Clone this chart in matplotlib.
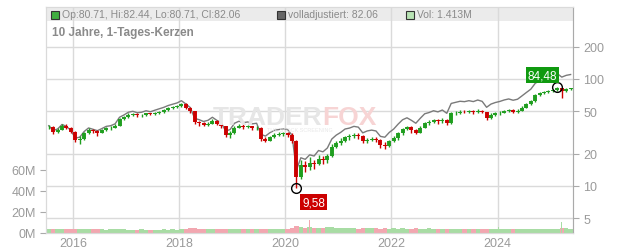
"""Chart: 10 Jahre, 1-Tages-Kerzen (monthly candles) with volume."""
import numpy as np
import matplotlib
matplotlib.use("Agg")
import matplotlib.pyplot as plt
from matplotlib.patches import Rectangle

# monthly candles, Jul 2015 .. May 2025
close = [
    35.5, 32, 33, 36.5, 35, 32,
    27, 27.5, 31, 33.5, 32.5, 31.5, 33, 34.5, 35, 36.5, 42, 44,
    46, 47, 45.5, 46, 47.5, 46.5, 48, 49.5, 51, 53, 54.5, 56,
    58, 54, 50, 39.5, 38.5, 37, 38, 40.5, 38, 36, 30, 31,
    35, 36.5, 35.5, 36, 34.5, 35, 27.5, 26.5, 28.5, 30, 30.5, 31,
    30, 26.5, 12, 15.5, 15, 16.5, 16, 18, 17.5, 19, 23, 25,
    26.5, 28.5, 29, 30, 29.5, 26, 27, 27.5, 27, 24, 23.5, 26,
    28, 31, 34, 35.5, 33.5, 31.5, 35, 38.5, 39.5, 41, 40, 41.5,
    38.5, 47.5, 48.5, 49.5, 49, 50, 49, 50.5, 49, 43, 46, 47.5,
    48.5, 50, 51, 49.5, 50.5, 54, 58, 62, 70, 74, 75, 76.5,
    78, 82, 77, 80, 82.06,
]
high = [
    37, 36, 34.5, 37.5, 37.5, 35.5,
    32.5, 29, 32, 34.5, 34, 33.5, 34, 35.5, 36, 37.5, 43.5, 45,
    47.5, 48.5, 48, 47, 48.5, 48.5, 49.5, 50.5, 52, 54.5, 56, 57.5,
    60, 59, 55, 50, 40.5, 39.5, 39.5, 42.5, 41.5, 38.5, 36.5, 32.5,
    36.5, 37.5, 37.5, 37, 36.5, 36, 35.5, 28.5, 29.5, 31.5, 32, 32,
    32, 31, 27, 17.5, 17, 18.5, 17.5, 19.5, 19, 20, 24.5, 26,
    28, 29.5, 30.5, 31, 31, 30, 28, 28.5, 28.5, 27.5, 25.5, 27,
    29, 32, 35, 36.5, 36, 34, 36, 39.5, 41, 42, 42, 43,
    42, 49, 50, 51, 51, 51.5, 51, 52, 51, 49.5, 47.5, 49,
    50, 51.5, 52.5, 52, 52, 55.5, 59.5, 63.5, 72, 76, 77.5, 78,
    80, 84.48, 83, 82, 82.5,
]
low = [
    34, 30.5, 31, 33, 34, 31.5,
    25.5, 24.5, 27, 30.5, 31, 29.5, 31, 32.5, 33.5, 34.5, 36, 41.5,
    43.5, 45, 44.5, 44, 45, 45.5, 46, 47, 48.5, 50.5, 52.5, 53.5,
    55, 52, 48.5, 38, 36.5, 36, 36, 37.5, 37, 35, 28.5, 28,
    30.5, 34.5, 34, 34.5, 33, 33.5, 26, 25.5, 26, 28, 29, 29.5,
    28.5, 25, 9.58, 11.5, 13.5, 14, 14.5, 15.5, 16, 16.5, 18.5, 22.5,
    24, 25.5, 27, 28, 27.5, 25, 25, 26, 25.5, 22.5, 22, 23,
    25.5, 27, 30, 33, 31, 30.5, 31, 34.5, 37, 38.5, 38, 39,
    37, 38, 46, 47, 47.5, 48, 47, 48, 47.5, 41.5, 42.5, 45,
    46, 47.5, 49, 48, 48.5, 50, 53, 57, 61, 69, 72.5, 73.5,
    75, 77, 67, 75.5, 78.5,
]
# "volladjustiert" line
adjusted = [
    36.5, 33, 34, 37.5, 36, 33,
    28, 28.5, 32.2, 34.8, 33.8, 32.8, 34.3, 36, 36.5, 38, 43.8, 46,
    48.8, 49.8, 48.3, 48.8, 50.4, 49.3, 51, 52.6, 54.2, 56.4, 58, 59.6,
    62.6, 58.3, 54, 42.7, 41.6, 40, 41, 43.8, 41, 39, 32.5, 33.6,
    38.5, 40.2, 39, 39.6, 38, 38.5, 30.3, 29.2, 31.4, 33, 33.6, 34.2,
    33.6, 29.8, 14, 18.3, 17.7, 19.5, 19, 21.4, 20.8, 22.6, 27.4, 29.8,
    31.6, 34, 34.7, 36, 35.4, 31.3, 32.6, 33.2, 32.6, 29, 28.5, 31.6,
    34, 37.8, 41.5, 43.3, 41, 38.5, 42.8, 47.2, 48.5, 50.4, 49.2, 51.2,
    47.7, 59, 60.4, 61.8, 61.3, 62.6, 61.4, 63.5, 61.7, 54.3, 58.2, 60.2,
    61.6, 63.6, 65, 63.2, 64.6, 69.4, 74.7, 80.2, 91, 96.5, 98.3, 100.6,
    103, 112, 104, 108, 110,
]
# volume in millions
volume = [
    3.8, 3.5, 4.0, 3.6, 3.4, 3.7,
    4.2, 4.0, 3.8, 3.6, 3.5, 3.7, 3.4, 3.3, 3.6, 3.5, 3.8, 3.4,
    3.2, 3.3, 3.1, 3.4, 3.2, 3.0, 3.3, 3.1, 3.4, 3.2, 3.5, 3.3,
    3.6, 4.0, 4.4, 4.8, 4.0, 3.8, 4.1, 3.7, 3.9, 4.2, 3.9, 4.0,
    3.8, 3.6, 3.9, 3.7, 4.0, 3.6, 3.8, 4.1, 3.7, 3.9, 3.6, 3.8,
    4.0, 4.8, 6.2, 5.6, 5.2, 5.5, 4.8, 4.6, 5.0, 5.3, 5.6, 4.9,
    5.0, 4.8, 4.6, 4.4, 4.2, 4.3, 4.5, 4.9, 4.6, 4.1, 4.4, 4.2,
    4.3, 4.1, 4.4, 4.0, 4.2, 4.5, 3.9, 4.1, 4.3, 4.0, 3.8, 4.0,
    3.9, 3.7, 4.2, 3.8, 3.6, 3.9, 3.5, 3.7, 3.6, 3.8, 3.5, 3.6,
    4.0, 3.7, 3.6, 3.9, 3.5, 3.7, 3.4, 3.6, 3.8, 3.5, 3.7, 3.9,
    4.2, 3.8, 4.4, 4.8, 4.0,
]
spike_dates = [2018.30, 2020.22, 2020.41, 2020.45, 2021.69, 2024.02, 2025.20]
spike_vols = [7, 9, 12, 12, 47, 6, 10]
spike_up = [False, True, False, False, False, True, True]

low_date, low_val = 2020.21, 9.58
high_date, high_val = 2025.125, 84.48

price_ticks = [5, 10, 20, 50, 100, 200]
vol_ticks = [0, 20, 40, 60]
year_ticks = [2016, 2018, 2020, 2022, 2024]

GREEN = "#1f9e1f"
RED = "#cc0000"
GRID = "#dadada"
TXT = "#9a9a9a"
TICKFONT = ["Liberation Sans Narrow", "Liberation Sans", "DejaVu Sans"]


def main():
    n = len(close)
    dates = 2015 + (6 + np.arange(n) + 0.5) / 12
    opens = [close[0]] + close[:-1]
    up = [c >= o for o, c in zip(opens, close)]

    fig = plt.figure(figsize=(6.32, 2.53), dpi=100)
    axv = fig.add_axes([46 / 632, 19 / 253, 527 / 632, 226 / 253])
    ax = axv.twinx()

    # header band behind everything
    axv.add_patch(Rectangle((0, 1 - 14 / 226), 1, 14 / 226, transform=axv.transAxes,
                            facecolor="#ebebeb", edgecolor="none", zorder=0))

    # volume
    vcol = ["#a8dca4" if u else "#f2a7b0" for u in up]
    axv.bar(dates, volume, width=1 / 12, color=vcol, linewidth=0, zorder=2)
    scol = ["#a8dca4" if u else "#f2a7b0" for u in spike_up]
    axv.bar(spike_dates, spike_vols, width=0.012, color=scol, linewidth=0, zorder=2)
    axv.set_ylim(0, 215)
    axv.set_yticks(vol_ticks)
    axv.set_yticklabels([f"{v}M" for v in vol_ticks])
    axv.set_xlim(2015.49, 2025.42)
    axv.set_xticks(year_ticks)
    axv.set_xticklabels([str(y) for y in year_ticks])
    axv.xaxis.grid(True, color=GRID, lw=1, zorder=1)
    axv.set_axisbelow(True)

    # price
    ax.set_yscale("log")
    ax.set_ylim(3.62, 471)
    ax.yaxis.grid(True, color=GRID, lw=1)
    ax.plot(dates, adjusted, color="#7a7a7a", lw=1.0, zorder=3)
    for d, o, c, h, lo, u in zip(dates, opens, close, high, low, up):
        col = GREEN if u else RED
        ax.vlines(d, lo, h, color=col, lw=1.0, zorder=4)
        ax.vlines(d, min(o, c), max(o, c), color=col, lw=2.8, zorder=4)
    ax.set_yticks(price_ticks)
    ax.set_yticklabels([str(p) for p in price_ticks])
    ax.minorticks_off()

    ax.plot([low_date], [low_val], "o", mfc="none", mec="black", ms=7, mew=1, zorder=6)
    ax.plot([high_date], [high_val], "o", mfc="none", mec="black", ms=7, mew=1, zorder=6)
    ax.annotate("9,58", (low_date, low_val), xytext=(4, -6), textcoords="offset points",
                ha="left", va="top", color="white", fontsize=8.5,
                bbox=dict(boxstyle="square,pad=0.15", fc=RED, ec="none"), zorder=7)
    ax.annotate("84,48", (high_date, high_val), xytext=(0, 4), textcoords="offset points",
                ha="right", va="bottom", color="white", fontsize=8.5,
                bbox=dict(boxstyle="square,pad=0.15", fc="#109a10", ec="none"), zorder=7)

    for a in (ax, axv):
        for s in a.spines.values():
            s.set_color(GRID)
        a.tick_params(colors="#aaaaaa", labelcolor=TXT, labelsize=9, length=4)
        for lab in a.get_xticklabels() + a.get_yticklabels():
            lab.set_family(TICKFONT)
    ax.spines["right"].set_color("#aaaaaa")
    axv.tick_params(axis="x", length=0, pad=3)

    # watermark
    fig.text(322 / 632, 1 - 118 / 253, "TRADER", ha="right", va="center", fontsize=19,
             fontweight="bold", color="#e6e6e6", zorder=1)
    fig.text(322 / 632, 1 - 118 / 253, "FOX", ha="left", va="center", fontsize=19,
             fontweight="bold", color="#f7d4d4", zorder=1)
    fig.text(300 / 632, 1 - 131 / 253, "THE STOCK SCREENING", ha="center", va="center",
             fontsize=4, color="#e8e8e8", zorder=1)

    # header legend
    fy = 1 - 15.5 / 253
    items = [(51, "#3fae3f", "Op:80.71, Hi:82.44, Lo:80.71, Cl:82.06"),
             (277, "#666666", "volladjustiert: 82.06"),
             (406, "#b8e3b4", "Vol: 1.413M")]
    for x0, col, label in items:
        fig.patches.append(Rectangle((x0 / 632, fy - 4 / 253), 8 / 632, 8 / 253,
                                     transform=fig.transFigure, fc=col, ec="#333333",
                                     lw=0.8, figure=fig))
        fig.text((x0 + 11) / 632, fy, label, ha="left", va="center", fontsize=7.5,
                 color="#8a8a8a")
    fig.text(52 / 632, 1 - 33 / 253, "10 Jahre, 1-Tages-Kerzen", ha="left", va="center",
             fontsize=8.5, fontweight="bold", color="#8a8a8a")

    fig.savefig("out.png", dpi=100)


if __name__ == "__main__":
    plt.rcParams["font.family"] = ["Liberation Sans", "DejaVu Sans"]
    main()
